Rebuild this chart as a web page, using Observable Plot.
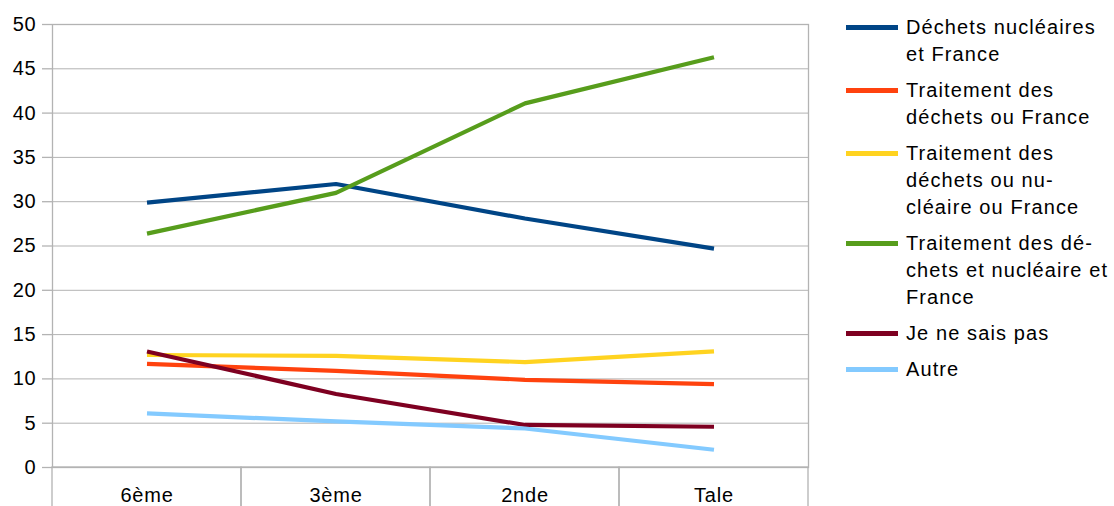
<!DOCTYPE html>
<html>
<head>
<meta charset="utf-8">
<script src="https://cdn.jsdelivr.net/npm/d3@7"></script>
<script src="https://cdn.jsdelivr.net/npm/@observablehq/plot@0.6"></script>
<style>
  html, body { margin: 0; padding: 0; background: #fff; }
  #wrap { position: relative; width: 1114px; height: 506px; overflow: hidden; font-family: "Liberation Sans", Arial, sans-serif; }
  #legend { position: absolute; left: 846px; top: 13.5px; font-size: 20px; letter-spacing: 1.1px; color: #000; }
  .entry { display: flex; align-items: flex-start; margin-bottom: 9px; }
  .sw { width: 52px; height: 27px; position: relative; flex: none; margin-right: 8px; }
  .sw::after { content: ""; position: absolute; left: 0; right: 0; top: 11px; height: 5px; background: var(--c); }
  .lab { line-height: 27px; white-space: nowrap; }
</style>
</head>
<body>
<div id="wrap"><div id="legend"></div></div>
<script>
const categories = ["6ème", "3ème", "2nde", "Tale"];
const seriesNames = [
  "Déchets nucléaires et France",
  "Traitement des déchets ou France",
  "Traitement des déchets ou nucléaire ou France",
  "Traitement des déchets et nucléaire et France",
  "Je ne sais pas",
  "Autre"
];
const legendLines = [
  ["Déchets nucléaires", "et France"],
  ["Traitement des", "déchets ou France"],
  ["Traitement des", "déchets ou nu-", "cléaire ou France"],
  ["Traitement des dé-", "chets et nucléaire et", "France"],
  ["Je ne sais pas"],
  ["Autre"]
];
const seriesColors = ["#004586", "#ff420e", "#ffd320", "#579d1c", "#7e0021", "#83caff"];

const dechetsNucleairesFrance = [29.9, 32.0, 28.1, 24.7];
const traitementOuFrance = [11.7, 10.9, 9.9, 9.4];
const traitementOuNucleaireOuFrance = [12.7, 12.6, 11.9, 13.1];
const traitementEtNucleaireEtFrance = [26.4, 31.0, 41.1, 46.3];
const jeNeSaisPas = [13.1, 8.3, 4.8, 4.6];
const autre = [6.1, 5.2, 4.4, 2.0];

const yTicks = [0, 5, 10, 15, 20, 25, 30, 35, 40, 45, 50];

const seriesValues = [
  dechetsNucleairesFrance,
  traitementOuFrance,
  traitementOuNucleaireOuFrance,
  traitementEtNucleaireEtFrance,
  jeNeSaisPas,
  autre
];

const data = [];
seriesNames.forEach((s, i) => {
  categories.forEach((c, j) => data.push({series: s, cat: c, value: seriesValues[i][j]}));
});

const grey = "#b3b3b3";

const chart = Plot.plot({
  width: 1114,
  height: 506,
  marginLeft: 52,
  marginRight: 306,
  marginTop: 24,
  marginBottom: 39,
  style: {fontFamily: "'Liberation Sans', Arial, sans-serif", fontSize: "20px", letterSpacing: "0.8px", color: "#000", background: "#fff"},
  x: {type: "band", domain: categories, padding: 0, label: null},
  y: {domain: [0, 50], label: null},
  color: {domain: seriesNames, range: seriesColors},
  marks: [
    Plot.gridY(yTicks, {stroke: grey, strokeOpacity: 1, strokeWidth: 1}),
    Plot.barY(categories, {x: d => d, y1: 0, y2: -6, fill: "none", stroke: grey, strokeWidth: 1.3}),
    Plot.frame({stroke: grey, strokeWidth: 1.3}),
    Plot.axisY(yTicks, {tickSize: 10, tickPadding: 6, stroke: grey, strokeWidth: 1.3, fill: "#000", label: null}),
    Plot.axisX({tickSize: 0, tickPadding: 20, fill: "#000", label: null}),
    Plot.line(data, {x: "cat", y: "value", z: "series", stroke: "series", strokeWidth: 4.2, strokeLinejoin: "round", strokeLinecap: "butt"})
  ]
});

const wrap = document.getElementById("wrap");
wrap.insertBefore(chart, wrap.firstChild);

const legend = document.getElementById("legend");
legendLines.forEach((lines, i) => {
  const e = document.createElement("div");
  e.className = "entry";
  const sw = document.createElement("div");
  sw.className = "sw";
  sw.style.setProperty("--c", seriesColors[i]);
  const lab = document.createElement("div");
  lab.className = "lab";
  lines.forEach((t, k) => {
    if (k) lab.appendChild(document.createElement("br"));
    lab.appendChild(document.createTextNode(t));
  });
  e.appendChild(sw);
  e.appendChild(lab);
  legend.appendChild(e);
});
</script>
</body>
</html>
